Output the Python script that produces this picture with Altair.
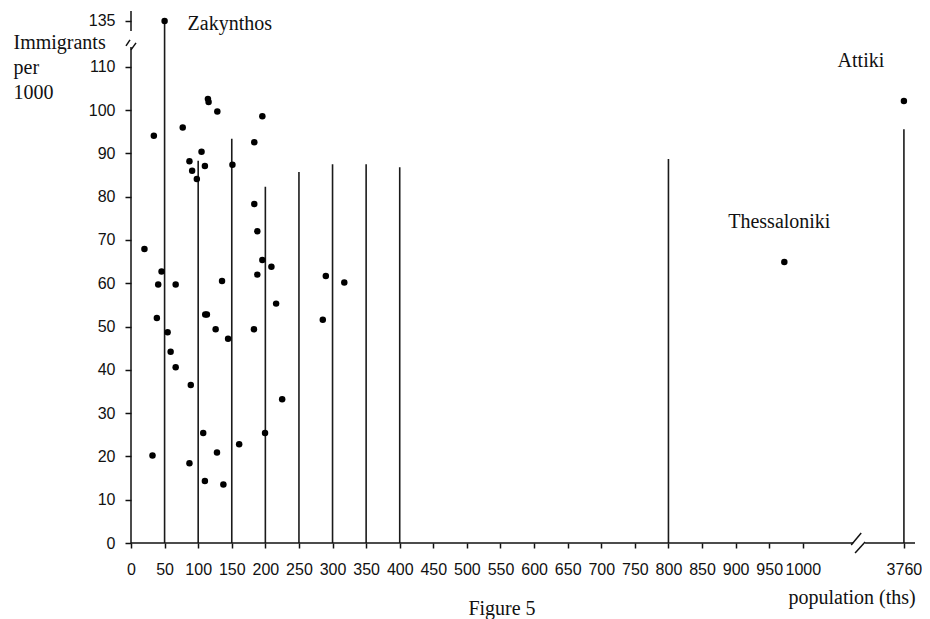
import altair as alt
import pandas as pd

# ---------------- data ----------------
POP = [34, 50, 77, 114.5, 115.5, 128.5, 87, 91, 105, 98, 110, 151, 183.5, 195.5,
       183.5, 188, 20, 45.5, 40.5, 66.5, 38.5, 54.5, 59, 66.5, 89, 110.5, 113,
       135.5, 126, 144.5, 195.5, 188, 209, 183, 216, 225, 290, 317.5, 285.5,
       107.5, 199.5, 161, 32, 87, 128, 110, 137.5, 972.5, 3760]
IMM = [94.1, 135, 96.0, 102.6, 101.9, 99.7, 88.2, 86.0, 90.4, 84.1, 87.1, 87.4, 92.6, 98.6,
       78.3, 72.0, 67.9, 62.7, 59.7, 59.7, 52.0, 48.7, 44.2, 40.6, 36.5, 52.8, 52.8,
       60.5, 49.4, 47.2, 65.4, 62.0, 63.8, 49.4, 55.3, 33.2, 61.7, 60.2, 51.6,
       25.4, 25.4, 22.8, 20.2, 18.4, 20.9, 14.3, 13.5, 64.9, 102.1]

STEM_X = [50, 100, 150, 200, 250, 300, 350, 400, 800, 3760]
STEM_TOP = [135, 88.3, 93.4, 82.3, 85.7, 87.5, 87.5, 86.8, 88.7, 95.6]

LABELS = ["Zakynthos", "Thessaloniki", "Attiki"]
LABEL_POP = [50, 972.5, 3760]
LABEL_IMM = [135, 64.9, 102.1]

X_TICKS = list(range(0, 1001, 50))
X_BREAK_LABEL = 3760
Y_TICKS = list(range(0, 111, 10))
Y_BREAK_LABEL = 135

X_TITLE = "population (ths)"
Y_TITLE = ["Immigrants", "per", "1000"]
CAPTION = "Figure 5"

# ---------------- broken-axis mapping ----------------
X_MAX = 1167.0        # linear extent of the x axis
X_BREAK_POS = 1150.5  # where 3760 sits on the linear axis
X_GAP = (1075.0, 1092.7)
Y_MAX = 122.9
Y_BREAK_POS = 120.6   # where 135 sits on the linear axis
Y_GAP = (114.6, 118.3)


def xp(v):
    return v if v <= 1050 else X_BREAK_POS


def yp(v):
    return v if v <= 112 else Y_BREAK_POS


pts = pd.DataFrame({"x": [xp(v) for v in POP], "y": [yp(v) for v in IMM],
                    "pop": POP, "imm": IMM})
stems = pd.DataFrame({"x": [xp(v) for v in STEM_X], "y": 0.0,
                      "y2": [yp(v) for v in STEM_TOP]})
labs = pd.DataFrame({"x": [xp(v) for v in LABEL_POP], "y": [yp(v) for v in LABEL_IMM],
                     "name": LABELS})

# axis lines with break marks (in axis units)
px_x = X_MAX / 784.0
px_y = Y_MAX / 532.0
segs = pd.DataFrame([
    # x-axis line, two pieces
    {"x": 0, "x2": X_GAP[0], "y": 0, "y2": 0},
    {"x": X_GAP[1], "x2": X_MAX, "y": 0, "y2": 0},
    # x-axis break slashes
    {"x": X_GAP[0] - 2 * px_x, "x2": X_GAP[0] + 8 * px_x, "y": -2 * px_y, "y2": 10 * px_y},
    {"x": X_GAP[1] - 10 * px_x, "x2": X_GAP[1], "y": -10 * px_y, "y2": 1 * px_y},
    # y-axis line, two pieces
    {"x": 0, "x2": 0, "y": 0, "y2": Y_GAP[0]},
    {"x": 0, "x2": 0, "y": Y_GAP[1], "y2": Y_MAX},
    # y-axis break slashes
    {"x": -5 * px_x, "x2": -1 * px_x, "y": Y_GAP[0] + 1 * px_y, "y2": Y_GAP[0] + 7 * px_y},
    {"x": 0 * px_x, "x2": 5 * px_x, "y": Y_GAP[0] - 3 * px_y, "y2": Y_GAP[0] + 4 * px_y},
])

XS = alt.Scale(domain=[0, X_MAX], nice=False, zero=False)
YS = alt.Scale(domain=[0, Y_MAX], nice=False, zero=False)

SANS = "Liberation Sans"
SERIF = "Liberation Serif"
INK = "#111111"

x_axis = alt.Axis(
    values=X_TICKS + [X_BREAK_POS],
    labelExpr=f"datum.value > 1100 ? '{X_BREAK_LABEL}' : format(datum.value, 'd')",
    domain=False, grid=False, tickSize=5, tickColor=INK, tickWidth=1.5,
    labelFont=SANS, labelFontSize=16, labelColor=INK, labelPadding=13,
    labelOverlap=False, labelFlush=False,
    title=X_TITLE, titleFont=SERIF, titleFontSize=20, titleFontWeight="normal",
    titleColor=INK, titleAnchor="start", titleAlign="left", titleBaseline="alphabetic",
    titleX=657, titleY=60,
)
y_axis = alt.Axis(
    values=Y_TICKS + [Y_BREAK_POS],
    labelExpr=f"datum.value > 115 ? '{Y_BREAK_LABEL}' : datum.label",
    domain=False, grid=False, tickSize=6, tickColor=INK, tickWidth=1.5,
    labelFont=SANS, labelFontSize=16, labelColor=INK, labelPadding=10,
    labelOverlap=False, labelFlush=False,
    title=Y_TITLE, titleFont=SERIF, titleFontSize=20, titleFontWeight="normal",
    titleColor=INK, titleAngle=0, titleAlign="left", titleBaseline="alphabetic",
    titleX=-118, titleY=37, titleLineHeight=25,
)

stem_layer = alt.Chart(stems).mark_rule(color="#1a1a1a", strokeWidth=1.6).encode(
    x=alt.X("x:Q", scale=XS, axis=x_axis),
    y=alt.Y("y:Q", scale=YS, axis=y_axis),
    y2="y2:Q",
)

seg_layer = alt.Chart(segs).mark_rule(color=INK, strokeWidth=1.5).encode(
    x=alt.X("x:Q", scale=XS, axis=x_axis),
    x2="x2:Q",
    y=alt.Y("y:Q", scale=YS, axis=y_axis),
    y2="y2:Q",
)

points = alt.Chart(pts).mark_circle(size=42, color="black", opacity=1).encode(
    x=alt.X("x:Q", scale=XS, axis=x_axis),
    y=alt.Y("y:Q", scale=YS, axis=y_axis),
)


def label_layer(name, dx, dy, align):
    return alt.Chart(labs).transform_filter(alt.datum.name == name).mark_text(
        font=SERIF, fontSize=20, color=INK, align=align, baseline="alphabetic",
        dx=dx, dy=dy,
    ).encode(
        x=alt.X("x:Q", scale=XS, axis=x_axis),
        y=alt.Y("y:Q", scale=YS, axis=y_axis),
        text="name:N",
    )


lab_z = label_layer("Zakynthos", 23, 9, "left")
lab_t = label_layer("Thessaloniki", -5, -34, "center")
lab_a = label_layer("Attiki", -43, -34, "center")

caption = alt.Chart(pd.DataFrame({"t": [CAPTION]})).mark_text(
    font=SERIF, fontSize=20, color=INK, align="center", baseline="alphabetic"
).encode(x=alt.value(371), y=alt.value(604), text="t:N")

chart = alt.layer(
    stem_layer, seg_layer, points, lab_z, lab_t, lab_a, caption
).properties(
    width=784, height=532,
    autosize=alt.AutoSizeParams(type="none"),
    padding={"left": 123, "top": 3, "right": 7, "bottom": 76},
    background="white",
).configure_view(stroke=None)

chart.save("out.html", embed_options={"renderer": "svg", "actions": False})
